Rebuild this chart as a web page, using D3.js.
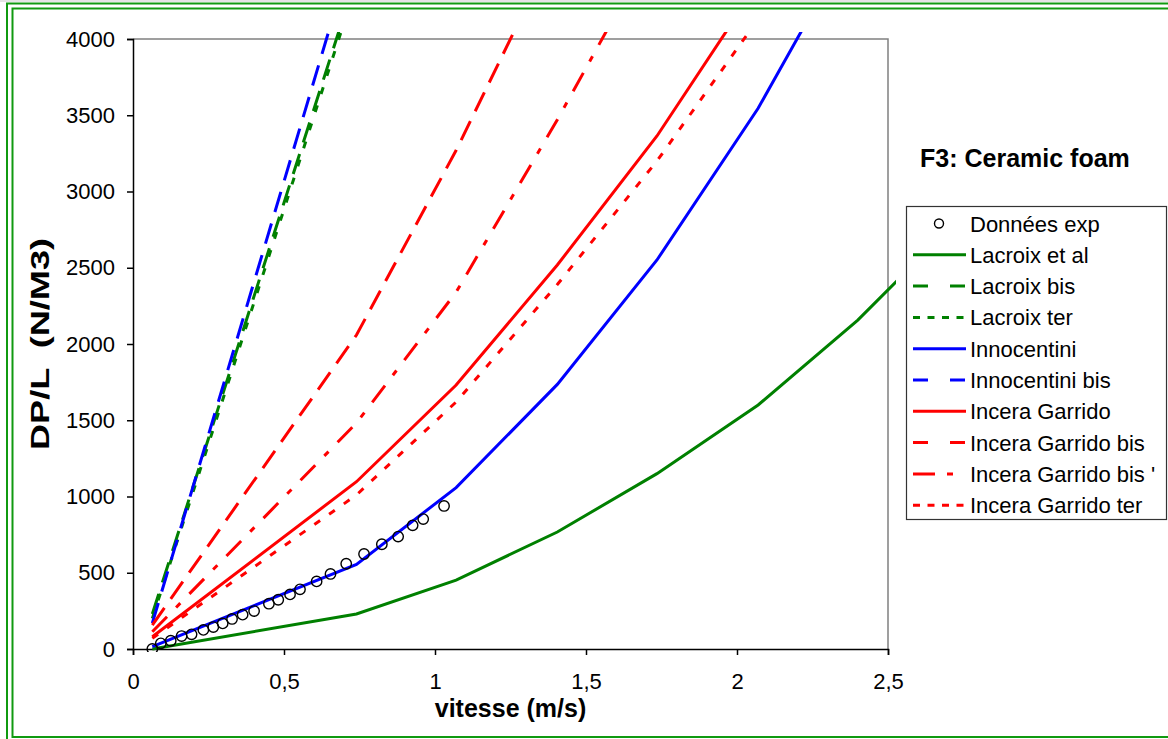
<!DOCTYPE html>
<html lang="fr">
<head>
<meta charset="UTF-8">
<title>F3: Ceramic foam</title>
<script src="https://d3js.org/d3.v7.min.js"></script>
<style>
  body { margin: 0; background: #fff; }
  text { font-family: "Liberation Sans", Arial, sans-serif; }
</style>
</head>
<body>
<div id="chart"></div>
<script>
// abscisses communes des courbes de modèles
var xModel = [0.064, 0.74, 1.07, 1.405, 1.735, 2.07, 2.40, 2.735];

var lacroix        = [0, 230, 452, 767, 1150, 1600, 2157, 2820];
var lacroixBis     = [230, 4411];
var lacroixTer     = [200, 4361];
var innocentini    = [15, 555, 1058, 1735, 2551, 3546, 4710];
var innocentiniBis = [170, 4661];
var incera         = [80, 1097, 1731, 2518, 3364, 4365];
var inceraBis      = [157, 2059, 3270, 4630];
var inceraBisP     = [113, 1482, 2340, 3470, 4650];
var inceraTer      = [70, 1010, 1620, 2390, 3200, 4130];

// données expérimentales
var expX = [0.064, 0.092, 0.125, 0.161, 0.194, 0.233, 0.266, 0.297, 0.328, 0.363, 0.401, 0.450,
            0.481, 0.520, 0.553, 0.608, 0.654, 0.706, 0.765, 0.824, 0.878, 0.926, 0.961, 1.030];
var expY = [0, 37, 54, 85, 96, 125, 144, 168, 197, 225, 249, 297,
            323, 358, 391, 443, 492, 559, 623, 687, 737, 811, 852, 938];

var yTicks = [0, 500, 1000, 1500, 2000, 2500, 3000, 3500, 4000];
var xTicks = [0, 0.5, 1, 1.5, 2, 2.5];

var series = [
  {name: "Lacroix et al",        vals: lacroix,        color: "#008000", dash: null,             legDash: null},
  {name: "Lacroix bis",          vals: lacroixBis,     color: "#008000", dash: "21,12",          legDash: "15,22"},
  {name: "Lacroix ter",          vals: lacroixTer,     color: "#008000", dash: "7,12",           legDash: "7,7.5"},
  {name: "Innocentini",          vals: innocentini,    color: "#0000ff", dash: null,             legDash: null},
  {name: "Innocentini bis",      vals: innocentiniBis, color: "#0000ff", dash: "21,12",          legDash: "15,22"},
  {name: "Incera Garrido",       vals: incera,         color: "#ff0000", dash: null,             legDash: null},
  {name: "Incera Garrido bis",   vals: inceraBis,      color: "#ff0000", dash: "21,11",          legDash: "15,22"},
  {name: "Incera Garrido bis '", vals: inceraBisP,     color: "#ff0000", dash: "21,13,6,13",     legDash: "22,12,6,13"},
  {name: "Incera Garrido ter",   vals: inceraTer,      color: "#ff0000", dash: "7,11",           legDash: "7,7.5"}
];

var width = 1168, height = 739;
var svg = d3.select("#chart").append("svg")
    .attr("width", width)
    .attr("height", height);

// cadre vert double
svg.append("rect").attr("x", 0).attr("y", 0).attr("width", width).attr("height", 2).attr("fill", "#e4e4e4");
svg.append("rect").attr("x", 7).attr("y", 3.5).attr("width", 1200).attr("height", 740)
    .attr("fill", "none").attr("stroke", "#109a10").attr("stroke-width", 2);
svg.append("rect").attr("x", 12.5).attr("y", 8.5).attr("width", 1200).attr("height", 728.5)
    .attr("fill", "none").attr("stroke", "#109a10").attr("stroke-width", 2);

var x = d3.scaleLinear().domain([0, 2.5]).range([133, 888]);
var y = d3.scaleLinear().domain([0, 4000]).range([649, 39]);

// bord haut et droit de la zone de tracé
svg.append("path")
    .attr("d", "M133," + y(4000) + "H" + x(2.5) + "V" + y(0))
    .attr("fill", "none").attr("stroke", "#808080").attr("stroke-width", 1.5);

var yAxis = svg.append("g")
    .attr("transform", "translate(133,0)")
    .call(d3.axisLeft(y).tickValues(yTicks).tickSize(6).tickPadding(12).tickFormat(d3.format("d")));
var xAxis = svg.append("g")
    .attr("transform", "translate(0,649)")
    .call(d3.axisBottom(x).tickValues(xTicks).tickSize(6).tickPadding(18)
        .tickFormat(function(d) { return String(d).replace(".", ","); }));
[yAxis, xAxis].forEach(function(a) {
  a.select(".domain").attr("stroke", "#000").attr("stroke-width", 1.5);
  a.selectAll(".tick line").attr("stroke", "#000").attr("stroke-width", 1.5);
  a.selectAll(".tick text").attr("fill", "#000").style("font-size", "22px")
    .style("font-family", "'Liberation Sans', Arial, sans-serif");
});

svg.append("clipPath").attr("id", "clip")
  .append("rect").attr("x", 131).attr("y", 32).attr("width", 765).attr("height", 620);

var line = d3.line()
    .x(function(d, i) { return x(xModel[i]); })
    .y(function(d) { return y(d); });

var plot = svg.append("g").attr("clip-path", "url(#clip)");
plot.selectAll(".serie")
  .data(series)
  .enter().append("path")
    .attr("class", "serie")
    .attr("d", function(s) { return line(s.vals); })
    .attr("fill", "none")
    .attr("stroke", function(s) { return s.color; })
    .attr("stroke-width", 3)
    .attr("stroke-dasharray", function(s) { return s.dash; });

plot.selectAll(".pt")
  .data(expX)
  .enter().append("circle")
    .attr("class", "pt")
    .attr("cx", function(d) { return x(d); })
    .attr("cy", function(d, i) { return y(expY[i]); })
    .attr("r", 5.2)
    .attr("fill", "none")
    .attr("stroke", "#000")
    .attr("stroke-width", 1.4);

// titres d'axes
svg.append("text")
    .attr("x", (x(0) + x(2.5)) / 2).attr("y", 717)
    .attr("text-anchor", "middle")
    .style("font-size", "25px").style("font-weight", "bold")
    .text("vitesse (m/s)");
svg.append("text")
    .attr("transform", "translate(49,344) rotate(-90)")
    .attr("text-anchor", "middle")
    .attr("textLength", 212)
    .attr("lengthAdjust", "spacingAndGlyphs")
    .style("font-size", "26px").style("font-weight", "bold")
    .style("white-space", "pre")
    .text("DP/L  (N/M3)");

// titre
svg.append("text")
    .attr("x", 920).attr("y", 167)
    .style("font-size", "25px").style("font-weight", "bold")
    .text("F3: Ceramic foam");

// légende
var leg = svg.append("g");
leg.append("rect")
    .attr("x", 906.5).attr("y", 206.5).attr("width", 260).attr("height", 313)
    .attr("fill", "#fff").attr("stroke", "#333").attr("stroke-width", 1.2);

var rowY = function(i) { return 223.5 + i * 31.3; };
leg.append("circle")
    .attr("cx", 939).attr("cy", rowY(0)).attr("r", 4.5)
    .attr("fill", "none").attr("stroke", "#000").attr("stroke-width", 1.4);
leg.append("text").attr("x", 970).attr("y", rowY(0) + 8)
    .style("font-size", "22px").text("Données exp");

series.forEach(function(s, i) {
  var yy = rowY(i + 1);
  leg.append("line")
    .attr("x1", 913).attr("x2", 966).attr("y1", yy).attr("y2", yy)
    .attr("stroke", s.color).attr("stroke-width", 3)
    .attr("stroke-dasharray", s.legDash);
  leg.append("text").attr("x", 970).attr("y", yy + 8)
    .style("font-size", "22px").text(s.name);
});
</script>
</body>
</html>
